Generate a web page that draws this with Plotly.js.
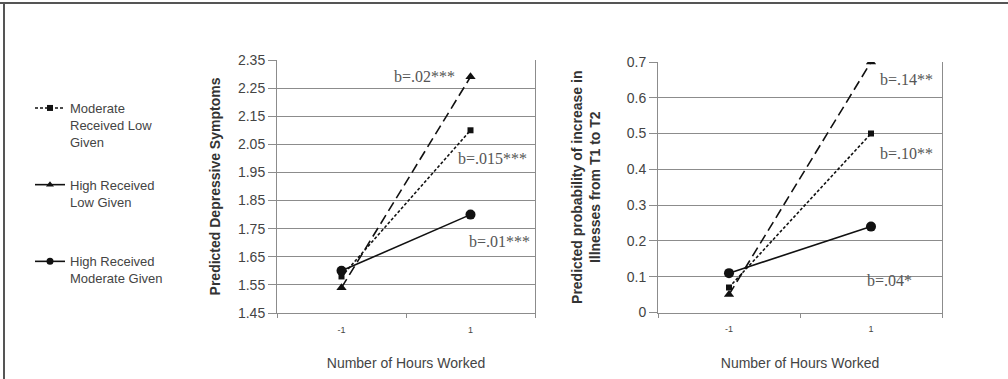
<!DOCTYPE html>
<html>
<head>
<meta charset="utf-8">
<script src="https://cdn.plot.ly/plotly-3.0.1.min.js"></script>
<style>html,body{margin:0;padding:0;background:#fff;}#chart{width:1008px;height:379px;}</style>
</head>
<body>
<div id="chart"></div>
<script>
// ---- data ----
const hoursLabels = ["-1", "1"];
const seriesNames = ["Moderate<br>Received Low<br>Given", "High Received<br>Low Given<br> ", "High Received<br>Moderate Given<br> "];
const depModLow = [1.58, 2.10];
const depHighLow = [1.54, 2.29];
const depHighMod = [1.60, 1.80];
const illModLow = [0.07, 0.50];
const illHighLow = [0.05, 0.70];
const illHighMod = [0.11, 0.24];
const depSlopes = ["b=.015***", "b=.02***", "b=.01***"];
const illSlopes = ["b=.10**", "b=.14**", "b=.04*"];
const depTicks = [1.45, 1.55, 1.65, 1.75, 1.85, 1.95, 2.05, 2.15, 2.25, 2.35];
const illTicks = [0, 0.1, 0.2, 0.3, 0.4, 0.5, 0.6, 0.7];

const W = 1008, H = 379;
const px = x => x / W;
const py = y => 1 - y / H;

const ink = '#111';
const styles = [
  {dash: '3px,2px', symbol: 'square', size: 6},
  {dash: '10px,5px', symbol: 'triangle-up', size: 9},
  {dash: 'solid', symbol: 'circle', size: 10}
];
const legendDash = ['3px,2px', 'solid', 'solid'];

const depVals = [depModLow, depHighLow, depHighMod];
const illVals = [illModLow, illHighLow, illHighMod];

const traces = [];
depVals.forEach((v, i) => traces.push({
  x: hoursLabels, y: v, xaxis: 'x', yaxis: 'y', type: 'scatter', mode: 'lines+markers',
  line: {color: ink, width: 1.6, dash: styles[i].dash},
  marker: {color: ink, symbol: styles[i].symbol, size: styles[i].size},
  showlegend: false, hoverinfo: 'skip'
}));
illVals.forEach((v, i) => traces.push({
  x: hoursLabels, y: v, xaxis: 'x2', yaxis: 'y2', type: 'scatter', mode: 'lines+markers',
  line: {color: ink, width: 1.6, dash: styles[i].dash},
  marker: {color: ink, symbol: styles[i].symbol, size: styles[i].size},
  showlegend: false, hoverinfo: 'skip'
}));
// legend entries
seriesNames.forEach((n, i) => traces.push({
  x: [null], y: [null], xaxis: 'x', yaxis: 'y', type: 'scatter', mode: 'lines+markers',
  name: n, legendgroup: 'g' + i,
  line: {color: ink, width: 1.6, dash: legendDash[i]},
  marker: {color: ink, symbol: styles[i].symbol, size: Math.min(styles[i].size, 7)},
  showlegend: true
}));

const gridC = '#8c8c8c';
const sans = 'Liberation Sans, Arial, sans-serif';
const tickFont = {family: sans, size: 14, color: '#444'};
function xAx(domain) {
  return {
    domain: domain, type: 'category', range: [-0.5, 1.5], fixedrange: true,
    showline: true, linecolor: gridC, linewidth: 1,
    ticks: 'outside', tickson: 'boundaries', ticklen: 4, tickcolor: gridC,
    ticklabelstandoff: 8,
    tickfont: {family: sans, size: 9, color: '#444'},
    showgrid: false, zeroline: false,
    title: {text: 'Number of Hours Worked', standoff: 24,
      font: {family: sans, size: 14, color: '#444'}}
  };
}
function yAx(domain, range, ticks, fmt, title, anchor, standoff) {
  return {
    domain: domain, range: range, tickvals: ticks, tickformat: fmt, anchor: anchor,
    showline: true, mirror: true, linecolor: gridC, linewidth: 1,
    showgrid: true, gridcolor: gridC, gridwidth: 1, zeroline: false,
    ticks: 'outside', ticklen: 8, tickcolor: gridC, tickfont: tickFont,
    title: {text: title, standoff: standoff,
      font: {family: sans, size: 14, color: '#333', weight: 'bold'}}
  };
}

const annFont = {family: 'Liberation Serif, Times New Roman, serif', size: 16, color: '#555'};
const ann = [];
const depPos = [[492, 158], [424, 77], [499, 241]];
const illPos = [[906, 153], [906, 80], [889, 280]];
depSlopes.forEach((t, i) => ann.push({text: t, xref: 'paper', yref: 'paper', x: px(depPos[i][0]), y: py(depPos[i][1]), showarrow: false, font: annFont, xanchor: 'center', yanchor: 'middle'}));
illSlopes.forEach((t, i) => ann.push({text: t, xref: 'paper', yref: 'paper', x: px(illPos[i][0]), y: py(illPos[i][1]), showarrow: false, font: annFont, xanchor: 'center', yanchor: 'middle'}));

const layout = {
  width: W, height: H,
  margin: {l: 0, r: 0, t: 0, b: 0},
  paper_bgcolor: '#fff', plot_bgcolor: '#fff',
  font: {family: sans, color: '#444'},
  xaxis: Object.assign(xAx([px(277), px(535)]), {anchor: 'y'}),
  yaxis: yAx([py(313), py(60)], [1.45, 2.35], depTicks, '.2f', 'Predicted Depressive Symptoms', 'x', 14),
  xaxis2: Object.assign(xAx([px(658), px(942)]), {anchor: 'y2'}),
  yaxis2: yAx([py(312.5), py(62)], [0, 0.7], illTicks, '', 'Predicted probability of increase in<br>Illnesses from T1 to T2', 'x2', 22),
  showlegend: true,
  legend: {
    x: px(30), y: py(93), xanchor: 'left', yanchor: 'top',
    traceorder: 'grouped', tracegroupgap: 23, valign: 'top',
    font: {family: sans, size: 13, color: '#444'},
    bgcolor: 'rgba(0,0,0,0)', itemwidth: 30
  },
  annotations: ann,
  shapes: [
    {type: 'line', xref: 'paper', yref: 'paper', x0: 0, x1: 1, y0: py(3), y1: py(3), line: {color: '#555', width: 2}},
    {type: 'line', xref: 'paper', yref: 'paper', x0: px(4), x1: px(4), y0: py(3), y1: 0, line: {color: '#555', width: 2}}
  ]
};

Plotly.newPlot('chart', traces, layout, {staticPlot: true, displayModeBar: false});
</script>
</body>
</html>
